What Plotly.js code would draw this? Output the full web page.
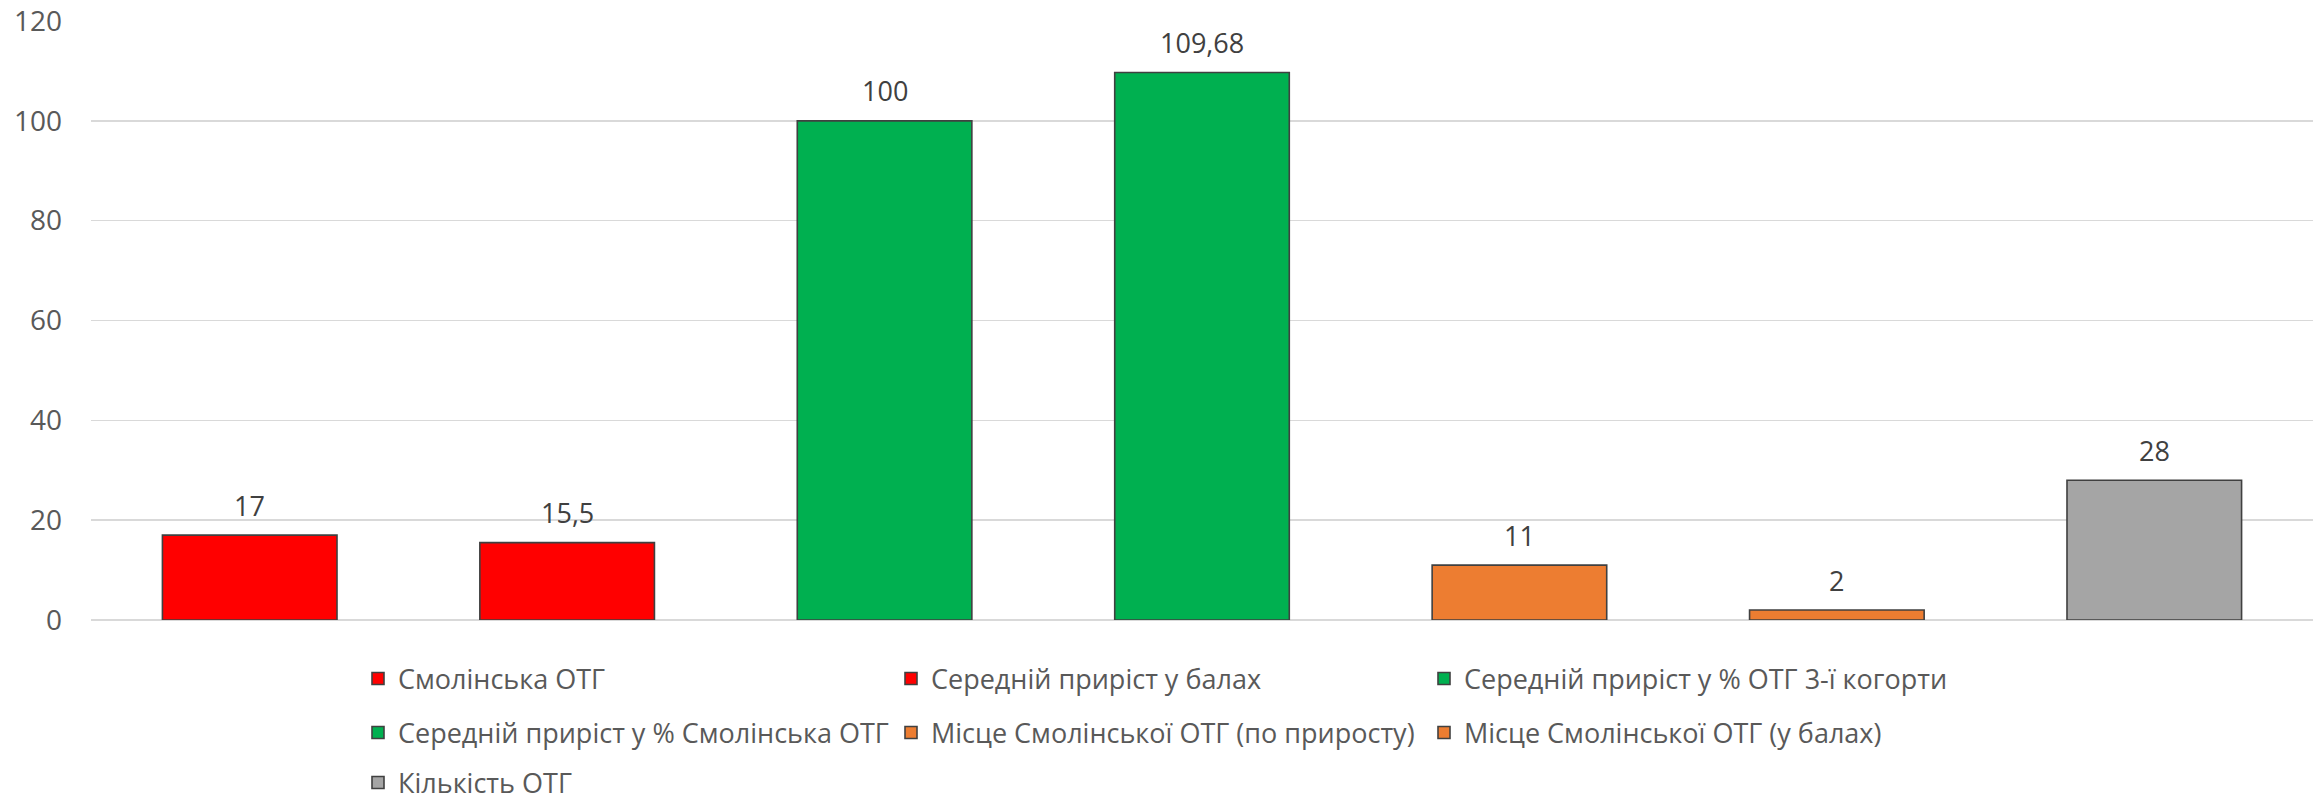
<!DOCTYPE html>
<html>
<head>
<meta charset="utf-8">
<script src="https://cdn.plot.ly/plotly-3.0.1.min.js"></script>
<style>html,body{margin:0;padding:0;background:#fff;}#chart{width:2323px;height:802px;}</style>
</head>
<body>
<div id="chart"></div>
<script>
const seriesNames = [
  "Смолінська ОТГ",
  "Середній приріст у балах",
  "Середній приріст у % ОТГ 3-ї когорти",
  "Середній приріст у % Смолінська ОТГ",
  "Місце Смолінської ОТГ (по приросту)",
  "Місце Смолінської ОТГ (у балах)",
  "Кількість ОТГ"
];
const seriesValues = [17, 15.5, 100, 109.68, 11, 2, 28];
const seriesColors = ["#FF0000", "#FF0000", "#00B050", "#00B050", "#ED7D31", "#ED7D31", "#A5A5A5"];
const yTicks = [0, 20, 40, 60, 80, 100, 120];

const FONT = "'Open Sans', 'DejaVu Sans', sans-serif";
const legendIds = ["legend", "legend2", "legend3"];

const traces = seriesNames.map((name, i) => ({
  type: "bar",
  name: name,
  x: [name],
  y: [seriesValues[i]],
  width: 0.55,
  marker: { color: seriesColors[i], line: { color: "#404040", width: 1.6 } },
  legend: legendIds[Math.floor(i / 3)],
  hoverinfo: "skip"
}));

const annotations = seriesNames.map((name, i) => ({
  x: name,
  y: seriesValues[i],
  xref: "x",
  yref: "y",
  text: String(seriesValues[i]).replace(".", ","),
  showarrow: false,
  yanchor: "middle",
  yshift: 30,
  font: { family: FONT, size: 27, color: "#404040" }
}));

const legendBase = {
  orientation: "h",
  xref: "container",
  yref: "container",
  x: 358 / 2323,
  xanchor: "left",
  yanchor: "middle",
  entrywidth: 488,
  entrywidthmode: "pixels",
  font: { family: FONT, size: 27, color: "#595959" },
  bgcolor: "rgba(0,0,0,0)",
  traceorder: "normal"
};

const layout = {
  width: 2323,
  height: 802,
  margin: { l: 91, r: 10, t: 21, b: 182 },
  paper_bgcolor: "#ffffff",
  plot_bgcolor: "#ffffff",
  barmode: "overlay",
  showlegend: true,
  separators: ", ",
  font: { family: FONT },
  xaxis: {
    type: "category",
    showticklabels: false,
    showgrid: false,
    zeroline: false,
    showline: false,
    ticks: "",
    fixedrange: true
  },
  yaxis: {
    range: [0, 120],
    tickvals: yTicks,
    showgrid: true,
    gridcolor: "#D9D9D9",
    gridwidth: 1.5,
    zeroline: true,
    zerolinecolor: "#D9D9D9",
    zerolinewidth: 1.5,
    showline: false,
    ticks: "",
    ticklabelstandoff: 28,
    tickfont: { family: FONT, size: 28, color: "#595959" },
    fixedrange: true
  },
  legend: Object.assign({}, legendBase, { y: 1 - 679 / 802 }),
  legend2: Object.assign({}, legendBase, { y: 1 - 733 / 802 }),
  legend3: Object.assign({}, legendBase, { y: 1 - 783 / 802 }),
  annotations: annotations
};

Plotly.newPlot("chart", traces, layout, { displayModeBar: false, staticPlot: true });
</script>
</body>
</html>
